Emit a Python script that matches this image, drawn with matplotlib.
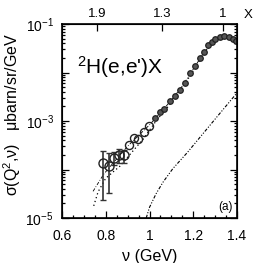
import numpy as np
import matplotlib
matplotlib.use("Agg")
import matplotlib.pyplot as plt
from matplotlib.ticker import FixedLocator, FixedFormatter, MultipleLocator, LogLocator, NullFormatter, FuncFormatter

plt.rcParams['font.family'] = ['Liberation Sans', 'DejaVu Sans']
plt.rcParams['mathtext.fontset'] = 'custom'
plt.rcParams['mathtext.rm'] = 'Liberation Sans'
plt.rcParams['mathtext.it'] = 'Liberation Sans'

# ---- data ----
nu_err = [0.787, 0.815, 0.838, 0.861, 0.883]
sig_err = [1.36e-4, 1.18e-4, 1.73e-4, 1.99e-4, 1.99e-4]
sig_err_hi = [2.40e-4, 2.19e-4, 2.30e-4, 2.65e-4, 2.52e-4]
sig_err_lo = [2.35e-5, 3.27e-5, 1.24e-4, 1.36e-4, 1.36e-4]

nu_mid = [0.906, 0.929, 0.947, 0.975, 0.998]
sig_mid = [3.20e-4, 4.46e-4, 4.26e-4, 5.93e-4, 7.89e-4]

nu_hi = [1.025, 1.048, 1.066, 1.094, 1.117, 1.139, 1.162, 1.185, 1.208,
         1.231, 1.249, 1.267, 1.286, 1.299, 1.322, 1.341, 1.363, 1.382, 1.397]
sig_hi = [1.15e-3, 1.53e-3, 1.77e-3, 2.58e-3, 3.27e-3, 4.36e-3, 6.08e-3,
          9.77e-3, 1.36e-2, 1.99e-2, 2.65e-2, 3.69e-2, 4.26e-2, 4.91e-2,
          5.40e-2, 5.66e-2, 5.40e-2, 4.91e-2, 4.40e-2]

# model curves (log10 of sigma)
nu_dot = [0.745, 0.765, 0.80, 0.865, 0.92, 0.97, 1.03, 1.10, 1.16, 1.20,
          1.25, 1.30, 1.34, 1.37, 1.40]
log_dot = [-4.75, -4.46, -4.18, -3.93, -3.64, -3.38, -3.00, -2.62, -2.25,
           -1.96, -1.60, -1.33, -1.25, -1.27, -1.33]

nu_dd = [0.742, 0.79, 0.85, 0.90, 0.95, 1.00, 1.05, 1.10, 1.15, 1.20,
         1.25, 1.30, 1.34, 1.37, 1.40]
log_dd = [-4.45, -4.10, -3.78, -3.52, -3.30, -3.08, -2.83, -2.57, -2.28,
          -1.93, -1.58, -1.33, -1.24, -1.26, -1.32]

nu_qe = [0.985, 1.0, 1.03, 1.062, 1.107, 1.171, 1.23, 1.30, 1.35, 1.40]
log_qe = [-5.0, -4.78, -4.50, -4.26, -3.98, -3.66, -3.34, -2.96, -2.69, -2.42]

x_top_pos = [0.76, 1.057, 1.336]
x_top_lab = ['1.9', '1.3', '1']

fig = plt.figure(figsize=(2.59, 2.63), dpi=100)
ax = fig.add_axes([62/259, 1-218/263, (237-62)/259, (218-24)/263])

ax.set_yscale('log')
ax.set_xlim(0.6, 1.4)
ax.set_ylim(1e-5, 1e-1)

ax.plot(nu_dot, 10**np.array(log_dot), ls=(0, (1, 2.2)), color='k', lw=0.9)
ax.plot(nu_dd, 10**np.array(log_dd), ls=(0, (4, 2, 1, 2)), color='k', lw=0.6)
ax.plot(nu_qe, 10**np.array(log_qe), ls=(0, (3, 1.5, 1, 1.5, 1, 1.5)), color='k', lw=0.8)

yerr = [np.array(sig_err) - np.array(sig_err_lo), np.array(sig_err_hi) - np.array(sig_err)]
ax.errorbar(nu_err, sig_err, yerr=yerr, fmt='o', ms=6.5, mfc='none', mec='#222222',
            mew=1.0, ecolor='#333333', elinewidth=1.2, capsize=2.2, capthick=1.0)
ax.plot(nu_mid, sig_mid, 'o', ms=5.8, mfc='none', mec='#222222', mew=1.0)
ax.plot(nu_hi, sig_hi, 'o', ms=4.0, mfc='#555555', mec='#222222', mew=0.9)

# ticks
ax.xaxis.set_major_locator(MultipleLocator(0.2))
ax.xaxis.set_minor_locator(MultipleLocator(0.05))
ax.xaxis.set_major_formatter(FuncFormatter(lambda v, p: ('%g' % round(v, 2))))
ax.yaxis.set_major_locator(FixedLocator([1e-5, 1e-4, 1e-3, 1e-2, 1e-1]))
ax.yaxis.set_major_formatter(FixedFormatter([r'10$^{-5}$', '', r'10$^{-3}$', '', r'10$^{-1}$']))
ax.yaxis.set_minor_locator(LogLocator(base=10, subs=np.arange(2, 10), numticks=20))
ax.yaxis.set_minor_formatter(NullFormatter())
ax.tick_params(which='both', direction='in', top=False, right=True, labelsize=10, width=0.9)
ax.tick_params(which='major', length=5)
ax.tick_params(which='minor', length=2.5)
ax.tick_params(axis='x', pad=8)
ax.tick_params(axis='y', pad=6)
for s in ax.spines.values():
    s.set_linewidth(1.2)

axt = ax.twiny()
axt.set_xlim(0.6, 1.4)
axt.set_xticks(x_top_pos)
axt.set_xticklabels(x_top_lab)
axt.tick_params(direction='in', length=5, width=0.9, labelsize=9.5, pad=3)

ax.set_xlabel('ν (GeV)', fontsize=11.5, labelpad=4)
fig.text(12/259, 1-114/263, 'σ(Q$^{2}$,ν)   μbarn/sr/GeV', rotation=90,
         fontsize=11.5, ha='center', va='center')
fig.text(248/259, 1-15/263, 'X', fontsize=9.5, ha='center', va='center')
ax.text(0.086, 0.78, '$^{2}$H(e,e\')X', transform=ax.transAxes, fontsize=15,
        ha='left', va='center')
ax.text(0.975, 0.055, '(a)', transform=ax.transAxes, fontsize=8.5,
        ha='right', va='center')

fig.savefig('out.png', dpi=100)
